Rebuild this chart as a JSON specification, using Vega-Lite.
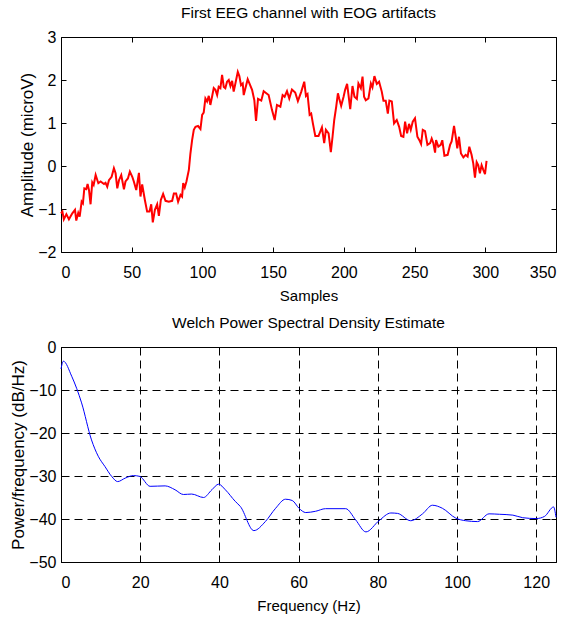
{
  "$schema": "https://vega.github.io/schema/vega-lite/v6.json",
  "background": "white",
  "padding": {"left": 9, "top": 5, "right": 0, "bottom": 0},
  "spacing": 11,
  "config": {
    "view": {"stroke": "black", "strokeWidth": 1},
    "font": "Liberation Sans",
    "title": {"font": "Liberation Sans", "fontSize": 15.5, "fontWeight": "normal", "color": "black", "offset": 8},
    "axis": {
      "domain": false, "grid": false, "tickColor": "black", "tickSize": -5, "tickWidth": 1,
      "labelFont": "Liberation Sans", "labelFontSize": 16, "labelColor": "black",
      "titleFont": "Liberation Sans", "titleFontSize": 15, "titleColor": "black", "titleFontWeight": "normal"
    },
    "axisX": {"labelPadding": 17, "titlePadding": 8},
    "axisY": {"labelPadding": 10, "titlePadding": 1, "titleFontSize": 17}
  },
  "datasets": {
    "eeg": [
      {"s":0,"a":-1.1},{"s":1,"a":-1.06},{"s":2,"a":-1.24},{"s":3.8,"a":-1.12},{"s":5.6,"a":-1.24},{"s":8,"a":-1.10},{"s":9.9,"a":-1.02},{"s":10.8,"a":-1.27},{"s":12.2,"a":-1.09},{"s":13.2,"a":-1.18},{"s":14.6,"a":-0.83},{"s":15.5,"a":-0.87},{"s":16.5,"a":-0.52},{"s":17.9,"a":-0.54},{"s":18.8,"a":-0.42},{"s":19.8,"a":-0.56},{"s":20.9,"a":-0.89},{"s":22.1,"a":-0.38},{"s":23.1,"a":-0.44},{"s":24.5,"a":-0.21},{"s":26.4,"a":-0.40},{"s":28,"a":-0.36},{"s":30.4,"a":-0.42},{"s":31.5,"a":-0.39},{"s":32.7,"a":-0.48},{"s":33.9,"a":-0.33},{"s":35.8,"a":-0.25},{"s":37.4,"a":-0.05},{"s":38.6,"a":-0.17},{"s":39.8,"a":-0.52},{"s":41,"a":-0.33},{"s":42.6,"a":-0.21},{"s":44.5,"a":-0.54},{"s":45.6,"a":-0.36},{"s":47.3,"a":-0.29},{"s":48.7,"a":-0.13},{"s":50.4,"a":-0.25},{"s":51.5,"a":-0.36},{"s":53.2,"a":-0.56},{"s":55.1,"a":-0.16},{"s":56.2,"a":-0.71},{"s":57.4,"a":-0.43},{"s":59.3,"a":-0.79},{"s":60.9,"a":-1.06},{"s":62.6,"a":-1.06},{"s":63.8,"a":-0.89},{"s":64.9,"a":-1.31},{"s":66.4,"a":-1.02},{"s":68,"a":-0.89},{"s":69.2,"a":-1.16},{"s":70.6,"a":-0.79},{"s":72.2,"a":-0.65},{"s":73.9,"a":-0.81},{"s":76.2,"a":-0.83},{"s":78.6,"a":-0.81},{"s":79.8,"a":-0.64},{"s":81.4,"a":-0.64},{"s":82.8,"a":-0.83},{"s":84.5,"a":-0.67},{"s":85.6,"a":-0.71},{"s":86.4,"a":-0.40},{"s":87.5,"a":-0.50},{"s":88.7,"a":-0.36},{"s":90.4,"a":-0.09},{"s":91.5,"a":0.29},{"s":92.7,"a":0.60},{"s":93.9,"a":0.84},{"s":95.1,"a":0.91},{"s":96.9,"a":0.93},{"s":98.6,"a":0.86},{"s":99.8,"a":1.19},{"s":100.9,"a":1.24},{"s":102.1,"a":1.57},{"s":103.3,"a":1.50},{"s":104.5,"a":1.63},{"s":105.6,"a":1.42},{"s":106.8,"a":1.61},{"s":108,"a":1.81},{"s":109.2,"a":1.77},{"s":110.4,"a":1.65},{"s":111.5,"a":1.84},{"s":112.7,"a":1.81},{"s":113.9,"a":2.12},{"s":115.1,"a":1.84},{"s":116.2,"a":1.81},{"s":117.4,"a":1.96},{"s":118.6,"a":2.0},{"s":119.8,"a":1.86},{"s":121,"a":1.98},{"s":122.1,"a":1.73},{"s":123.3,"a":1.92},{"s":125,"a":2.19},{"s":126.1,"a":2.09},{"s":127.3,"a":1.88},{"s":128.5,"a":1.92},{"s":129.2,"a":1.65},{"s":130.4,"a":1.81},{"s":132,"a":2.02},
      {"s":135.1,"a":1.77},{"s":136.7,"a":1.53},{"s":137.9,"a":1.05},{"s":139.3,"a":1.56},{"s":141.6,"a":1.52},{"s":143.3,"a":1.74},{"s":146.8,"a":1.65},{"s":149.2,"a":1.30},{"s":151.1,"a":1.07},{"s":152.7,"a":1.42},{"s":155.1,"a":1.38},{"s":156.7,"a":1.65},{"s":158.1,"a":1.61},{"s":159.8,"a":1.74},{"s":161.4,"a":1.57},{"s":163.3,"a":1.78},{"s":165.6,"a":1.71},{"s":167.5,"a":1.51},{"s":169.9,"a":1.73},{"s":172,"a":1.96},{"s":173.2,"a":1.63},{"s":174.3,"a":1.67},{"s":175.8,"a":1.19},{"s":176.9,"a":1.22},{"s":178.1,"a":0.99},{"s":179.8,"a":0.70},{"s":182.1,"a":0.70},{"s":184.5,"a":0.90},{"s":186.1,"a":0.53},{"s":187.3,"a":0.84},{"s":189.2,"a":0.76},{"s":190.8,"a":0.32},{"s":192,"a":0.68},{"s":193.2,"a":1.07},{"s":194.6,"a":1.38},{"s":195.8,"a":1.69},{"s":196.7,"a":1.57},{"s":198.1,"a":1.40},{"s":199.8,"a":1.61},{"s":200.9,"a":1.77},{"s":202.3,"a":1.91},{"s":203.3,"a":1.65},{"s":204.5,"a":1.32},{"s":206.1,"a":1.86},{"s":207.5,"a":1.61},{"s":209.2,"a":1.56},{"s":210.3,"a":1.92},{"s":212,"a":1.81},{"s":213.2,"a":2.08},{"s":214.3,"a":1.61},{"s":215.5,"a":1.53},{"s":217.4,"a":1.57},{"s":219.1,"a":1.92},{"s":220.2,"a":1.83},{"s":221.6,"a":2.09},{"s":223.3,"a":1.91},{"s":224.9,"a":1.96},{"s":226.8,"a":1.73},{"s":228,"a":1.52},{"s":229.6,"a":1.52},{"s":231.1,"a":1.22},{"s":232.2,"a":1.52},{"s":233.9,"a":1.50},{"s":235.5,"a":0.99},{"s":237.4,"a":1.07},{"s":239.1,"a":0.91},{"s":240.5,"a":0.70},{"s":242.1,"a":0.68},{"s":243.3,"a":1.03},{"s":244.7,"a":0.76},{"s":246.1,"a":0.98},{"s":247.3,"a":0.84},{"s":248.7,"a":1.03},{"s":250.3,"a":1.11},{"s":252,"a":0.68},{"s":253.4,"a":0.60},{"s":254.6,"a":0.51},{"s":255.8,"a":0.84},{"s":257.4,"a":0.81},{"s":259.1,"a":0.49},{"s":261,"a":0.53},{"s":262.1,"a":0.64},{"s":263.3,"a":0.53},{"s":264.5,"a":0.31},{"s":265.2,"a":0.60},{"s":266.8,"a":0.45},{"s":268.5,"a":0.49},{"s":269.6,"a":0.60},{"s":271.1,"a":0.24},{"s":273.4,"a":0.26},{"s":275.1,"a":0.49},{"s":276.2,"a":0.57},{"s":277.9,"a":0.93},{"s":279.1,"a":0.68},{"s":280.2,"a":0.41},{"s":281.4,"a":0.68},{"s":282.8,"a":0.29},{"s":284.5,"a":0.20},{"s":286.1,"a":0.26},{"s":287.5,"a":0.22},{"s":288.7,"a":0.45},{"s":290.3,"a":0.26},{"s":291.5,"a":0.06},{"s":292.7,"a":-0.27},{"s":293.9,"a":0.09},{"s":295,"a":0.02},{"s":296.2,"a":-0.17},{"s":297.4,"a":0.02},{"s":298.6,"a":-0.09},{"s":299.8,"a":-0.19},{"s":300.9,"a":0.12}
    ],
    "psd": [
      {"f":0,"p":-5.1},{"f":0.6,"p":-3.3},{"f":2.7,"p":-6.8},{"f":5.2,"p":-13},{"f":7.7,"p":-21.6},{"f":9.4,"p":-25.4},{"f":11.1,"p":-27.8},{"f":12.8,"p":-30.1},{"f":14.3,"p":-31.3},{"f":16.2,"p":-30.5},{"f":18.3,"p":-29.9},{"f":19.9,"p":-30.1},{"f":22.5,"p":-32.4},{"f":26.3,"p":-32.3},{"f":28.8,"p":-33.2},{"f":30.9,"p":-34.3},{"f":33,"p":-34.2},{"f":36,"p":-35},{"f":38.1,"p":-33.2},{"f":39.8,"p":-31.9},{"f":41.5,"p":-33.2},{"f":44,"p":-35.9},{"f":45.3,"p":-37.1},{"f":48.7,"p":-42.7},{"f":51.6,"p":-40.6},{"f":54.2,"p":-37.5},{"f":56.7,"p":-35.4},{"f":58.4,"p":-35.7},{"f":60.1,"p":-37.5},{"f":61.8,"p":-38.5},{"f":64.3,"p":-38.2},{"f":66.8,"p":-37.6},{"f":71.9,"p":-37.6},{"f":74.4,"p":-40.2},{"f":77,"p":-43},{"f":80.3,"p":-40.4},{"f":83.3,"p":-38.6},{"f":85,"p":-38.7},{"f":88.3,"p":-40.4},{"f":91.3,"p":-38.8},{"f":93.8,"p":-36.8},{"f":96.3,"p":-37.5},{"f":99.7,"p":-39.8},{"f":102.2,"p":-40.4},{"f":105.2,"p":-40.6},{"f":108.1,"p":-38.8},{"f":110.7,"p":-38.9},{"f":114.1,"p":-39.1},{"f":116.6,"p":-39.7},{"f":120,"p":-39.9},{"f":122.1,"p":-39.4},{"f":124.4,"p":-37.2},{"f":125,"p":-39.6}
    ]
  },
  "vconcat": [
    {
      "title": "First EEG channel with EOG artifacts",
      "width": 495,
      "height": 215,
      "data": {"name": "eeg"},
      "layer": [
        {
          "mark": {"type": "line", "color": "#ff0000", "strokeWidth": 2},
          "encoding": {
            "x": {"field": "s", "type": "quantitative", "scale": {"domain": [0, 350], "nice": false, "zero": false},
                  "axis": {"title": "Samples", "values": [0,50,100,150,200,250,300,350], "orient": "bottom"}},
            "y": {"field": "a", "type": "quantitative", "scale": {"domain": [-2, 3], "nice": false, "zero": false},
                  "axis": {"title": "Amplitude (microV)", "values": [-2,-1,0,1,2,3], "orient": "left"}}
          }
        },
        {
          "mark": {"type": "line", "strokeOpacity": 0},
          "encoding": {
            "x": {"field": "s", "type": "quantitative", "axis": {"title": null, "labels": false, "values": [0,50,100,150,200,250,300,350], "orient": "top"}},
            "y": {"field": "a", "type": "quantitative", "axis": {"title": null, "labels": false, "values": [-2,-1,0,1,2,3], "orient": "right"}}
          }
        }
      ],
      "resolve": {"axis": {"x": "independent", "y": "independent"}}
    },
    {
      "title": "Welch Power Spectral Density Estimate",
      "width": 495,
      "height": 215,
      "data": {"name": "psd"},
      "layer": [
        {
          "mark": {"type": "line", "color": "#0000ff", "strokeWidth": 1, "interpolate": "monotone"},
          "encoding": {
            "x": {"field": "f", "type": "quantitative", "scale": {"domain": [0, 125], "nice": false, "zero": false},
                  "axis": {"title": "Frequency (Hz)", "values": [0,20,40,60,80,100,120], "orient": "bottom", "grid": true, "gridColor": "black", "gridOpacity": 1, "gridDash": [8,5], "gridWidth": 1}},
            "y": {"field": "p", "type": "quantitative", "scale": {"domain": [-50, 0], "nice": false, "zero": false},
                  "axis": {"title": "Power/frequency (dB/Hz)", "values": [-50,-40,-30,-20,-10,0], "orient": "left", "grid": true, "gridColor": "black", "gridOpacity": 1, "gridDash": [8,5], "gridWidth": 1}}
          }
        },
        {
          "mark": {"type": "line", "strokeOpacity": 0},
          "encoding": {
            "x": {"field": "f", "type": "quantitative", "axis": {"title": null, "labels": false, "values": [0,20,40,60,80,100,120], "orient": "top"}},
            "y": {"field": "p", "type": "quantitative", "axis": {"title": null, "labels": false, "values": [-50,-40,-30,-20,-10,0], "orient": "right"}}
          }
        }
      ],
      "resolve": {"axis": {"x": "independent", "y": "independent"}}
    }
  ]
}
